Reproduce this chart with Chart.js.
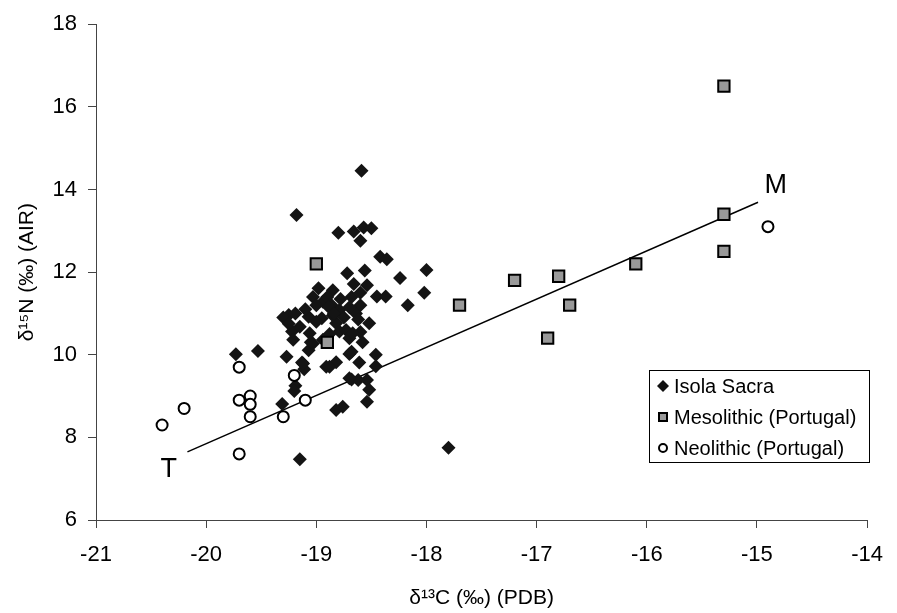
<!DOCTYPE html>
<html>
<head>
<meta charset="utf-8">
<script src="https://cdn.jsdelivr.net/npm/chart.js@4/dist/chart.umd.min.js"></script>
<style>
  html, body { margin: 0; padding: 0; background: #fff; }
</style>
</head>
<body>
<canvas id="isoChart" width="897" height="613"></canvas>
<script>
// Isola Sacra (d13C, d15N)
const isolaC = [-18.59, -19.18, -18.80, -18.66, -18.57, -18.50, -18.60, -18.42, -18.36, -18.72,
  -18.56, -18.24, -18.00, -18.02, -18.17, -18.98, -18.85, -18.66, -18.54, -18.45,
  -18.37, -19.25, -19.19, -19.07, -19.03, -18.94, -18.86, -18.79, -18.95, -18.82,
  -19.22, -19.15, -19.21, -19.06, -19.07, -18.79, -18.73, -19.73, -19.53, -19.27,
  -18.70, -18.94, -19.13, -19.11, -19.19, -19.20, -19.31, -19.15, -18.91, -18.82,
  -18.82, -18.76, -18.68, -18.61, -18.68, -18.54, -18.52, -18.54, -18.46, -18.46,
  -18.52, -17.80, -18.64, -18.60, -18.68, -18.62, -18.70, -18.60, -18.58, -18.90,
  -19.00, -19.10, -18.85, -19.00, -19.05, -18.88, -19.30, -19.25, -18.60, -18.70,
  -18.75, -18.89, -18.67, -19.03, -18.62, -18.70, -18.88, -19.12, -18.84, -18.78];
const isolaN = [14.45, 13.38, 12.95, 12.98, 13.08, 13.06, 12.76, 12.37, 12.31, 11.97,
  12.04, 11.86, 12.05, 11.50, 11.20, 11.61, 11.56, 11.71, 11.68, 11.41,
  11.41, 10.96, 11.00, 10.92, 11.40, 11.28, 11.20, 11.08, 10.88, 10.76,
  10.56, 10.68, 10.36, 10.52, 10.11, 10.56, 10.60, 10.01, 10.09, 9.95,
  10.02, 10.36, 9.81, 9.65, 9.25, 9.12, 8.81, 7.47, 9.71, 9.82,
  8.66, 8.74, 10.07, 9.81, 9.40, 9.39, 9.15, 8.86, 10.00, 9.72,
  10.76, 7.75, 11.00, 11.20, 11.40, 10.85, 10.40, 10.55, 10.30, 11.40,
  11.20, 11.10, 10.95, 10.80, 10.30, 10.50, 10.90, 10.75, 11.50, 11.15,
  10.90, 11.16, 10.52, 10.27, 9.39, 9.43, 9.71, 9.79, 11.00, 11.35];

// Mesolithic (Portugal)
const mesoC = [-15.3, -15.3, -15.3, -16.1, -16.8, -17.2, -17.7, -16.7, -16.9, -19.0, -18.9];
const mesoN = [16.5, 13.4, 12.5, 12.2, 11.9, 11.8, 11.2, 11.2, 10.4, 12.2, 10.3];

// Neolithic (Portugal)
const neoC = [-20.4, -20.2, -19.7, -19.7, -19.7, -19.6, -19.6, -19.6, -19.3, -19.2, -19.1, -14.9];
const neoN = [8.3, 8.7, 9.7, 8.9, 7.6, 9.0, 8.8, 8.5, 8.5, 9.5, 8.9, 13.1];

// terrestrial -> marine line
const lineC = [-20.17, -14.99];
const lineN = [7.65, 13.69];
const endLabels = ["T", "M"];
const endLabelC = [-20.34, -14.83];
const endLabelN = [7.23, 14.1];

const xTicks = [-21, -20, -19, -18, -17, -16, -15, -14];
const yTicks = [6, 8, 10, 12, 14, 16, 18];

const FONT = '"Liberation Sans", Arial, sans-serif';

function pts(xs, ys) {
  return xs.map((x, i) => ({ x: x, y: ys[i] }));
}

// marker used in the legend box
function drawMarker(ctx, shape, x, y) {
  ctx.save();
  ctx.lineWidth = 2;
  ctx.strokeStyle = '#000';
  ctx.beginPath();
  if (shape === 'diamond') {
    ctx.fillStyle = '#111';
    ctx.moveTo(x - 6, y); ctx.lineTo(x, y - 6); ctx.lineTo(x + 6, y); ctx.lineTo(x, y + 6);
    ctx.closePath();
    ctx.fill();
  } else if (shape === 'square') {
    ctx.fillStyle = '#999';
    ctx.rect(x - 4, y - 4, 8, 8);
    ctx.fill(); ctx.stroke();
  } else {
    ctx.fillStyle = '#fff';
    ctx.arc(x, y, 4, 0, Math.PI * 2);
    ctx.fill(); ctx.stroke();
  }
  ctx.restore();
}

const boxLegend = {
  id: 'boxLegend',
  afterDraw(chart) {
    const ctx = chart.ctx;
    const rows = [386, 417, 448];
    ctx.save();
    ctx.fillStyle = '#fff';
    ctx.strokeStyle = '#000';
    ctx.lineWidth = 1;
    ctx.fillRect(649.5, 370.5, 220, 92);
    ctx.strokeRect(649.5, 370.5, 220, 92);
    const items = chart.data.datasets.filter(d => d.legendShape);
    items.sort((a, b) => a.legendRow - b.legendRow);
    items.forEach((d, i) => {
      drawMarker(ctx, d.legendShape, 663, rows[i]);
      ctx.fillStyle = '#000';
      ctx.font = '20px ' + FONT;
      ctx.textBaseline = 'middle';
      ctx.textAlign = 'left';
      ctx.fillText(d.label, 674, rows[i] + 1);
    });
    ctx.restore();
  }
};

const endText = {
  id: 'endText',
  afterDatasetsDraw(chart) {
    const ctx = chart.ctx;
    const xs = chart.scales.x, ys = chart.scales.y;
    ctx.save();
    ctx.fillStyle = '#000';
    ctx.font = '27px ' + FONT;
    ctx.textAlign = 'center';
    ctx.textBaseline = 'middle';
    endLabels.forEach((t, i) => {
      ctx.fillText(t, xs.getPixelForValue(endLabelC[i]), ys.getPixelForValue(endLabelN[i]));
    });
    ctx.restore();
  }
};

new Chart(document.getElementById('isoChart'), {
  type: 'scatter',
  data: {
    datasets: [
      {
        label: 'Neolithic (Portugal)',
        data: pts(neoC, neoN),
        pointStyle: 'circle',
        pointRadius: 5.5,
        pointBorderWidth: 2,
        pointBackgroundColor: '#fff',
        pointBorderColor: '#000',
        legendShape: 'circle',
        legendRow: 2,
        order: 0
      },
      {
        label: 'Mesolithic (Portugal)',
        data: pts(mesoC, mesoN),
        pointStyle: 'rect',
        pointRadius: 8,
        pointBorderWidth: 2,
        pointBackgroundColor: '#999',
        pointBorderColor: '#000',
        legendShape: 'square',
        legendRow: 1,
        order: 1
      },
      {
        label: 'Isola Sacra',
        data: pts(isolaC, isolaN),
        pointStyle: 'rectRot',
        pointRadius: 7,
        pointBorderWidth: 0,
        pointBackgroundColor: '#141414',
        pointBorderColor: '#141414',
        legendShape: 'diamond',
        legendRow: 0,
        order: 2
      },
      {
        label: 'line',
        data: pts(lineC, lineN),
        showLine: true,
        borderColor: '#000',
        borderWidth: 1.5,
        pointRadius: 0,
        order: 3
      }
    ]
  },
  options: {
    responsive: false,
    animation: false,
    devicePixelRatio: 1,
    layout: { padding: { top: 24, right: 18, left: 0, bottom: 0 } },
    plugins: {
      legend: { display: false },
      tooltip: { enabled: false }
    },
    scales: {
      x: {
        type: 'linear',
        min: -21,
        max: -14,
        afterBuildTicks: s => { s.ticks = xTicks.map(v => ({ value: v })); },
        afterFit: s => { s.height = 93; },
        grid: { drawOnChartArea: false, drawTicks: true, tickLength: 8, color: '#444' },
        border: { color: '#444', width: 1 },
        ticks: {
          color: '#000',
          padding: 14,
          font: { family: FONT, size: 22 },
          callback: v => String(v)
        },
        title: {
          display: true,
          text: 'δ¹³C (‰) (PDB)',
          color: '#000',
          font: { family: FONT, size: 21 },
          padding: { top: 0, bottom: 2 }
        }
      },
      y: {
        type: 'linear',
        min: 6,
        max: 18,
        afterBuildTicks: s => { s.ticks = yTicks.map(v => ({ value: v })); },
        afterFit: s => { s.width = 96; },
        grid: { drawOnChartArea: false, drawTicks: true, tickLength: 8, color: '#444' },
        border: { color: '#444', width: 1 },
        ticks: {
          color: '#000',
          padding: 11,
          font: { family: FONT, size: 22 },
          callback: v => String(v)
        },
        title: {
          display: true,
          text: 'δ¹⁵N (‰) (AIR)',
          color: '#000',
          font: { family: FONT, size: 21 },
          padding: { top: 15, bottom: 0 }
        }
      }
    }
  },
  plugins: [endText, boxLegend]
});
</script>
</body>
</html>
